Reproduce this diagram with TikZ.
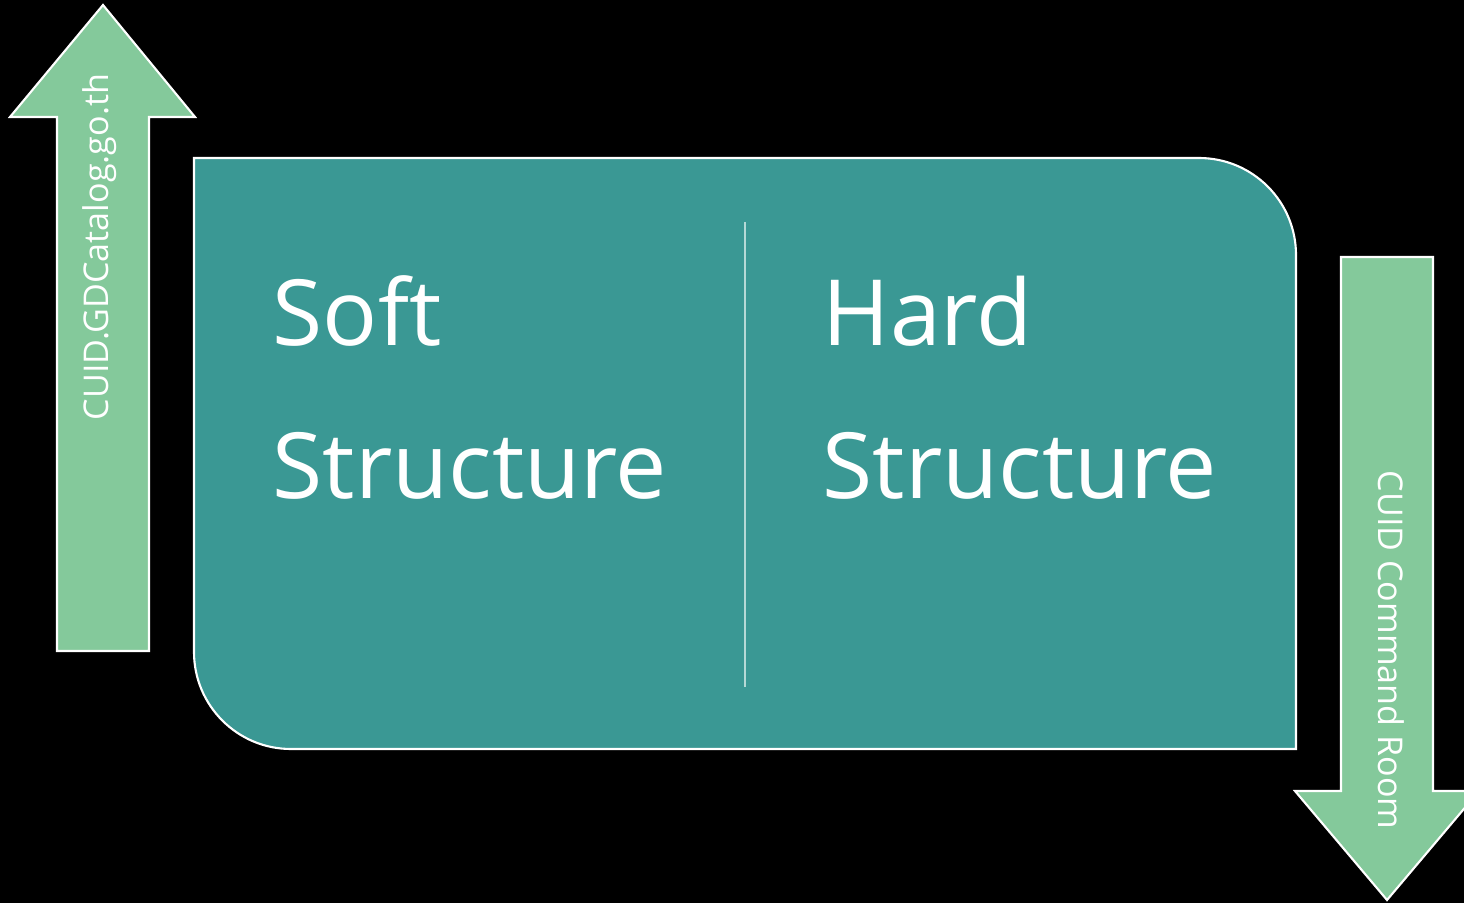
\documentclass[tikz,border=0pt]{standalone}
\usepackage{fontspec}
\setmainfont{Open Sans}
\usepackage{xcolor}
\definecolor{boxteal}{HTML}{3A9894}
\definecolor{arrowgreen}{HTML}{84C99B}
\definecolor{divgray}{HTML}{B5D9D6}

\begin{document}
\begin{tikzpicture}[
	bigtext/.style={anchor=base west, text=white, inner sep=0pt, font=\fontsize{26}{30}\selectfont},
	sidetext/.style={text=white, inner sep=0pt, font=\fontsize{9.7}{12}\selectfont},
	arrowshape/.style={fill=arrowgreen, draw=white, line width=0.6pt}]
	\fill[black] (0,0) rectangle (14.64,9.03);
	\useasboundingbox (0,0) rectangle (14.64,9.03);
	% main box
	\draw[fill=boxteal, draw=white, line width=0.6pt] (1.94,7.45) -- (11.99,7.45) arc[start angle=90, end angle=0, radius=0.97] -- (12.96,1.54) -- (2.91,1.54) arc[start angle=270, end angle=180, radius=0.97] -- cycle;
	\coordinate (divtop) at (7.45,6.81);
	\coordinate (divbot) at (7.45,2.16);
	\draw[divgray, line width=0.6pt] (divtop) -- (divbot);
	% arrows
	\draw[arrowshape] (0.57,2.52) -- (0.57,7.86) -- (0.10,7.86) -- (1.03,8.98) -- (1.95,7.86) -- (1.49,7.86) -- (1.49,2.52) -- cycle;
	\draw[arrowshape] (13.41,6.46) -- (13.41,1.12) -- (12.95,1.12) -- (13.87,0.03) -- (14.79,1.12) -- (14.33,1.12) -- (14.33,6.46) -- cycle;
	\node (soft) [bigtext] at (2.72,5.58) {Soft};
	\node (softstr) [bigtext] at (2.72,4.05) {Structure};
	\node (hard) [bigtext] at (8.22,5.58) {Hard};
	\node (hardstr) [bigtext] at (8.22,4.05) {Structure};
	\node (weblabel) [sidetext, rotate=90] at (1.00,6.56) {CUID.GDCatalog.go.th};
	\node (roomlabel) [sidetext, rotate=-90] at (13.91,2.53) {CUID Command Room};
\end{tikzpicture}
\end{document}
